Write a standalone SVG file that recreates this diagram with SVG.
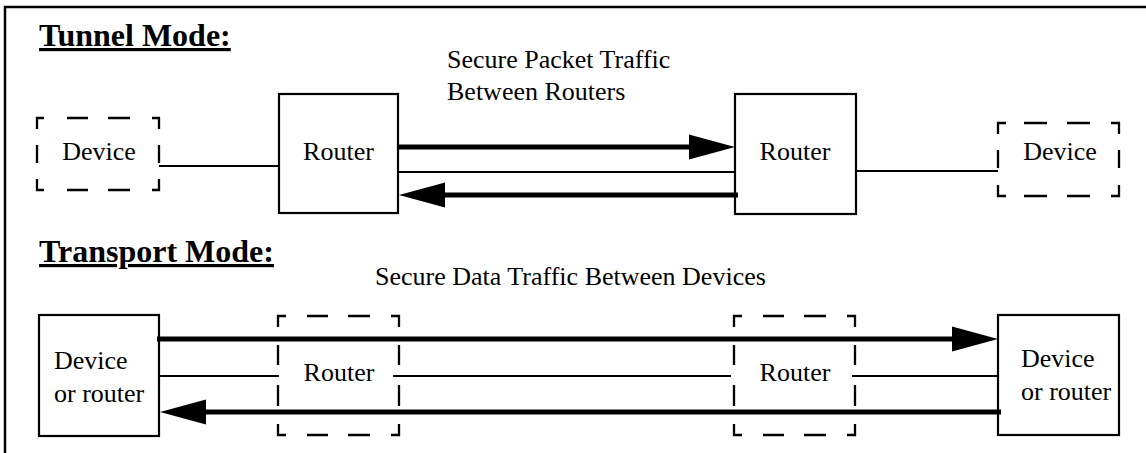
<svg xmlns="http://www.w3.org/2000/svg" width="1146" height="453" viewBox="0 0 1146 453">
  <style>
    .box { fill: #fff; stroke: #000; stroke-width: 2.2; }
    .dash { fill: none; stroke: #000; stroke-width: 2.3; stroke-linejoin: miter; stroke-linecap: butt; }
    .lbl { font-family: "Liberation Serif", "Times New Roman", serif; font-size: 26px; fill: #000; }
    .mid { text-anchor: middle; }
    .title { font-family: "Liberation Serif", "Times New Roman", serif; font-size: 32px; font-weight: bold; text-decoration: underline; fill: #000; }
    .thin { fill: none; stroke: #000; stroke-width: 2; }
    .thick { fill: none; stroke: #000; stroke-width: 5; }
    .frame { fill: none; stroke: #000; stroke-width: 2.5; }
  </style>
  <defs>
    <!-- solid arrowhead; its base sits on the line end, the tip points forward -->
    <marker id="head" markerUnits="userSpaceOnUse" markerWidth="47" markerHeight="26" refX="0" refY="13" orient="auto">
      <path d="M0,0.5 L46,13 L0,25.5 Z" fill="#000"/>
    </marker>
  </defs>

  <rect width="1146" height="453" fill="#fff"/>
  <path class="frame" d="M5,453 V7 H1146"/>

  <!-- section headings -->
  <text class="title" x="39" y="46">Tunnel Mode:</text>
  <text class="title" x="39" y="262">Transport Mode:</text>

  <!-- ===== Tunnel mode ===== -->
  <g id="tunnel-device-left">
    <path class="dash" d="M37,129 V118 H44 M67,118 H88 M108,118 H130 M152,118 H159 V129 M159,145 V163 M159,179 V190 H152 M130,190 H108 M88,190 H67 M44,190 H37 V179 M37,163 V145"/>
    <text class="lbl mid" x="99" y="160">Device</text>
  </g>

  <g id="tunnel-router-left">
    <rect class="box" x="279" y="94" width="119" height="119"/>
    <text class="lbl mid" x="338.5" y="160">Router</text>
  </g>

  <g id="tunnel-router-right">
    <rect class="box" x="735" y="94" width="121" height="120"/>
    <text class="lbl mid" x="795" y="160">Router</text>
  </g>

  <g id="tunnel-device-right">
    <path class="dash" d="M998,134 V123 H1006 M1024,123 H1047 M1067,123 H1090 M1111,123 H1119 V134 M1119,150 V168 M1119,185 V196 H1111 M1090,196 H1067 M1047,196 H1024 M1006,196 H998 V185 M998,168 V150"/>
    <text class="lbl mid" x="1060" y="160">Device</text>
  </g>

  <g id="tunnel-caption">
    <text class="lbl" x="447" y="68">Secure Packet Traffic</text>
    <text class="lbl" x="447" y="100">Between Routers</text>
  </g>

  <!-- ===== Transport mode ===== -->
  <g id="transport-end-left">
    <rect class="box" x="39" y="315" width="120" height="121"/>
    <text class="lbl" x="54" y="369">Device</text>
    <text class="lbl" x="54" y="402">or router</text>
  </g>

  <g id="transport-router-left">
    <path class="dash" d="M278,327 V316 H286 M307,316 H328 M348,316 H370 M391,316 H399 V327 M399,345 V365 M399,385 V406 M399,424 V435 H391 M370,435 H348 M328,435 H307 M286,435 H278 V424 M278,406 V385 M278,365 V345"/>
    <text class="lbl mid" x="339" y="381">Router</text>
  </g>

  <g id="transport-router-right">
    <path class="dash" d="M734,327 V316 H742 M763,316 H784 M804,316 H826 M847,316 H855 V327 M855,345 V365 M855,385 V406 M855,424 V435 H847 M826,435 H804 M784,435 H763 M742,435 H734 V424 M734,406 V385 M734,365 V345"/>
    <text class="lbl mid" x="795" y="381">Router</text>
  </g>

  <g id="transport-end-right">
    <rect class="box" x="998" y="315" width="121" height="120"/>
    <text class="lbl" x="1021" y="367">Device</text>
    <text class="lbl" x="1021" y="400">or router</text>
  </g>

  <g id="transport-caption">
    <text class="lbl" x="375" y="285">Secure Data Traffic Between Devices</text>
  </g>

  <!-- ===== Connectors ===== -->
  <g id="connectors">
    <!-- tunnel mode -->
    <line class="thin" x1="159" y1="166" x2="279" y2="166"/>
    <line class="thin" x1="856" y1="171" x2="998" y2="171"/>
    <line class="thick" x1="398" y1="147" x2="689" y2="147" marker-end="url(#head)"/>
    <line class="thin" x1="398" y1="172" x2="735" y2="172"/>
    <line class="thick" x1="738" y1="195" x2="445" y2="195" marker-end="url(#head)"/>
    <!-- transport mode -->
    <line class="thick" x1="157" y1="339" x2="952" y2="339" marker-end="url(#head)"/>
    <line class="thin" x1="159" y1="376" x2="279" y2="376"/>
    <line class="thin" x1="393" y1="376" x2="731" y2="376"/>
    <line class="thin" x1="852" y1="376" x2="998" y2="376"/>
    <line class="thick" x1="1001" y1="412" x2="206" y2="412" marker-end="url(#head)"/>
  </g>
</svg>
